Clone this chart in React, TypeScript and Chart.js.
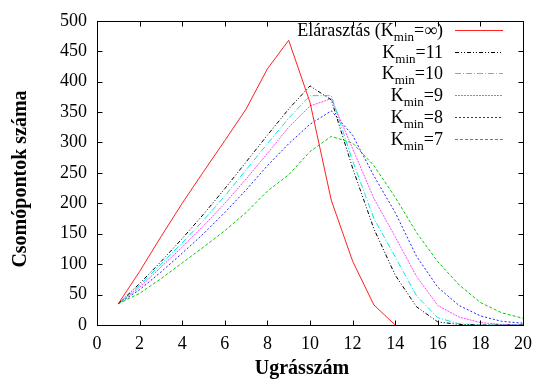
import React, { useEffect, useRef } from "react";
import { Chart, registerables } from "chart.js";

Chart.register(...registerables);

const hops = [1, 2, 3, 4, 5, 6, 7, 8, 9, 10, 11, 12, 13, 14, 15, 16, 17, 18, 19, 20];

const flooding = [35, 88, 145, 200, 252, 303, 355, 421, 468, 366, 205, 105, 33, 0];
const kmin11 = [35, 68, 104, 142, 182, 224, 268, 312, 355, 393, 370, 258, 158, 82, 30, 5, 1, 0, 0, 0];
const kmin10 = [35, 65, 100, 135, 172, 212, 255, 298, 340, 377, 377, 270, 175, 112, 48, 12, 2, 0, 0, 0];
const kmin9 = [35, 62, 95, 128, 163, 200, 240, 282, 325, 360, 372, 290, 208, 145, 80, 32, 13, 4, 1, 0];
const kmin8 = [35, 58, 87, 118, 150, 185, 222, 262, 298, 330, 352, 312, 245, 185, 113, 62, 32, 15, 6, 3];
const kmin7 = [35, 52, 76, 102, 128, 155, 185, 220, 247, 285, 310, 299, 262, 210, 152, 104, 66, 37, 20, 11];

const xTicks = [0, 2, 4, 6, 8, 10, 12, 14, 16, 18, 20];
const yTicks = [0, 50, 100, 150, 200, 250, 300, 350, 400, 450, 500];

const legendPre = ["Elárasztás (K", "K", "K", "K", "K", "K"];
const legendSub = ["min", "min", "min", "min", "min", "min"];
const legendPost = ["=∞)", "=11", "=10", "=9", "=8", "=7"];

const xTitle = "Ugrásszám";
const yTitle = "Csomópontok száma";

const seriesValues = [flooding, kmin11, kmin10, kmin9, kmin8, kmin7];
const seriesColors = ["#ff2020", "#000000", "#00e8e8", "#ff44ff", "#2222ff", "#00cc00"];
const seriesDash: number[][] = [[], [4, 2, 1, 2, 1, 2], [6, 2, 1, 2], [2, 1], [2, 2], [3, 2]];

const SERIF = "Liberation Serif";

Chart.defaults.font.family = SERIF;
Chart.defaults.font.size = 18;
Chart.defaults.color = "#000";

export default function App() {
  const ref = useRef<HTMLCanvasElement | null>(null);

  useEffect(() => {
    document.body.style.margin = "0";
    const canvas = ref.current;
    if (!canvas) return;

    const overlay = {
      id: "gnuplotDecor",
      afterDraw(chart: any) {
        const { ctx, chartArea, scales } = chart;
        const xs = scales.x;
        const ys = scales.y;
        ctx.save();
        ctx.strokeStyle = "#000";
        ctx.lineWidth = 1;
        ctx.setLineDash([]);
        const l = Math.round(chartArea.left) + 0.5;
        const r = Math.round(chartArea.right) + 0.5;
        const t = Math.round(chartArea.top) + 0.5;
        const b = Math.round(chartArea.bottom) + 0.5;
        ctx.strokeRect(l, t, r - l, b - t);
        const tl = 5;
        ctx.beginPath();
        xTicks.forEach((v) => {
          const px = Math.round(xs.getPixelForValue(v)) + 0.5;
          ctx.moveTo(px, b);
          ctx.lineTo(px, b - tl);
          ctx.moveTo(px, t);
          ctx.lineTo(px, t + tl);
        });
        yTicks.forEach((v) => {
          const py = Math.round(ys.getPixelForValue(v)) + 0.5;
          ctx.moveTo(l, py);
          ctx.lineTo(l + tl, py);
          ctx.moveTo(r, py);
          ctx.lineTo(r - tl, py);
        });
        ctx.stroke();

        const textRight = 443;
        const sampleL = 455;
        const sampleR = 503;
        const row0 = 30;
        const rowH = 21.7;
        ctx.fillStyle = "#000";
        ctx.textBaseline = "alphabetic";
        ctx.textAlign = "left";
        for (let i = 0; i < legendPre.length; i++) {
          const cy = row0 + rowH * i;
          const mainFont = `18px "${SERIF}"`;
          const subFont = `13px "${SERIF}"`;
          ctx.font = mainFont;
          const w1 = ctx.measureText(legendPre[i]).width;
          const w3 = ctx.measureText(legendPost[i]).width;
          ctx.font = subFont;
          const w2 = ctx.measureText(legendSub[i]).width;
          let x = textRight - (w1 + w2 + w3);
          const base = cy + 6;
          ctx.font = mainFont;
          ctx.fillText(legendPre[i], x, base);
          x += w1;
          ctx.font = subFont;
          ctx.fillText(legendSub[i], x, base + 5);
          x += w2;
          ctx.font = mainFont;
          ctx.fillText(legendPost[i], x, base);

          ctx.strokeStyle = seriesColors[i];
          ctx.setLineDash(seriesDash[i]);
          ctx.lineWidth = 1;
          ctx.beginPath();
          ctx.moveTo(sampleL, Math.round(cy) + 0.5);
          ctx.lineTo(sampleR, Math.round(cy) + 0.5);
          ctx.stroke();
        }
        ctx.setLineDash([]);

        ctx.fillStyle = "#000";
        ctx.font = `bold 20px "${SERIF}"`;
        ctx.textAlign = "center";
        ctx.textBaseline = "middle";
        ctx.fillText(xTitle, 302, 369);
        ctx.translate(21, 179);
        ctx.rotate(-Math.PI / 2);
        ctx.fillText(yTitle, 0, 0);
        ctx.restore();
      },
    };

    const datasets = seriesValues.map((vals, i) => ({
      label: legendPre[i] + legendSub[i] + legendPost[i],
      data: vals.map((v, j) => ({ x: hops[j], y: v })),
      borderColor: seriesColors[i],
      borderDash: seriesDash[i],
      borderWidth: 1,
      pointRadius: 0,
      fill: false,
      tension: 0,
    }));

    const tickFont = { family: SERIF, size: 18 };

    const chart = new Chart(canvas, {
      type: "line",
      data: { datasets },
      options: {
        responsive: false,
        animation: false,
        layout: { padding: { top: 14, right: 13, left: 0, bottom: 0 } },
        plugins: { legend: { display: false }, tooltip: { enabled: false } },
        scales: {
          x: {
            type: "linear",
            min: 0,
            max: 20,
            ticks: { stepSize: 2, color: "#000", font: tickFont, padding: 8 },
            grid: { display: false, drawTicks: false },
            border: { display: false },
            afterFit: (s: any) => {
              s.height = 62;
            },
          },
          y: {
            type: "linear",
            min: 0,
            max: 500,
            ticks: { stepSize: 50, color: "#000", font: tickFont, padding: 10 },
            grid: { display: false, drawTicks: false },
            border: { display: false },
            afterFit: (s: any) => {
              s.width = 97;
            },
          },
        },
      },
      plugins: [overlay],
    } as any);

    return () => chart.destroy();
  }, []);

  return (
    <div style={{ width: 540, height: 387, background: "#fff" }}>
      <canvas ref={ref} width={540} height={387} style={{ display: "block" }} />
    </div>
  );
}
